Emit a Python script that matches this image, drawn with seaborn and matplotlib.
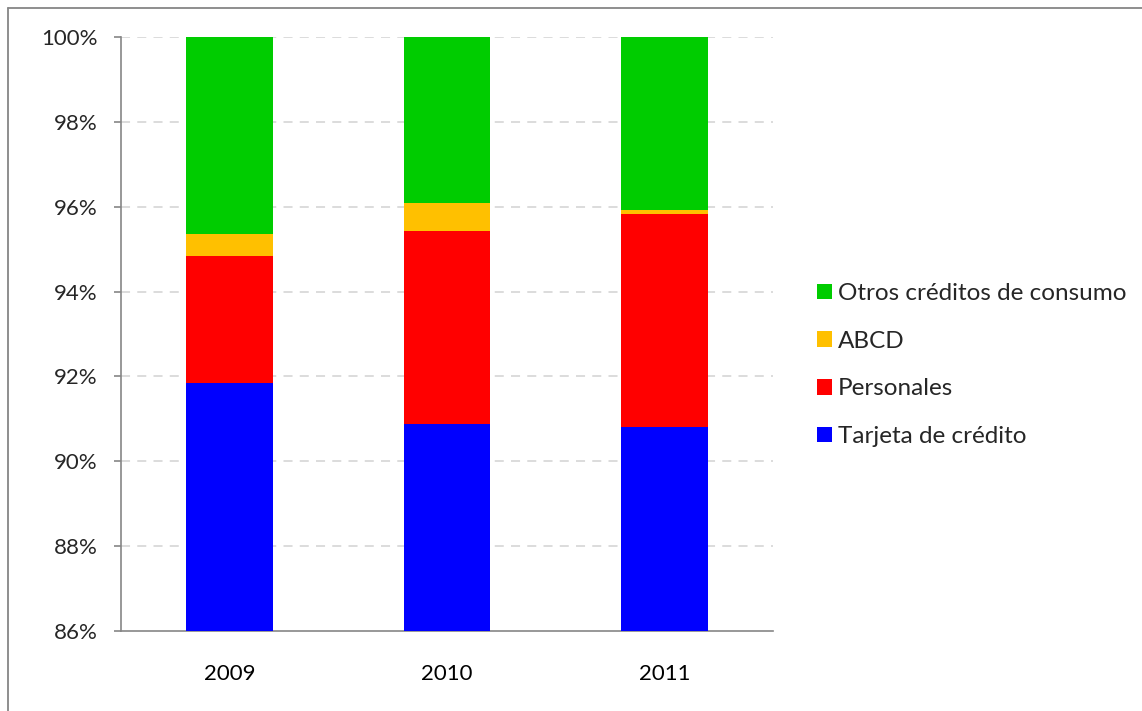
import matplotlib
matplotlib.use("Agg")
import matplotlib.pyplot as plt
from matplotlib.patches import Patch
from matplotlib.lines import Line2D
from matplotlib.ticker import FixedLocator, FuncFormatter
import numpy as np
import pandas as pd
import seaborn as sns

# Consumer credit composition (% of total), by year
years = ["2009", "2010", "2011"]
tarjeta = [91.85, 90.89, 90.80]
personales = [2.99, 4.54, 5.03]
abcd = [0.52, 0.66, 0.09]
otros = [4.64, 3.91, 4.08]

series_names = ["Tarjeta de crédito", "Personales", "ABCD", "Otros créditos de consumo"]
series_colors = ["#0000FF", "#FF0000", "#FFC000", "#00CC00"]

sns.set_theme(style="white")
plt.rcParams["font.family"] = ["Lato", "DejaVu Sans"]

fig = plt.figure(figsize=(11.42, 7.11), dpi=100)
ax = fig.add_axes([121 / 1142, 80 / 711, (773 - 121) / 1142, (631 - 37) / 711])

layers = np.array([tarjeta, personales, abcd, otros])
cum = np.cumsum(layers, axis=0)

# Draw stacked bars from the tallest cumulative layer down
for i in range(len(series_names) - 1, -1, -1):
    df = pd.DataFrame({"year": years, "value": cum[i]})
    sns.barplot(data=df, x="year", y="value", color=series_colors[i],
                width=0.4, saturation=1, ax=ax, zorder=3, linewidth=0)

ax.set_ylim(86, 100)
ax.set_xlim(-0.5, 2.5)
ax.set_xlabel("")
ax.set_ylabel("")

yt = [86, 88, 90, 92, 94, 96, 98, 100]
ax.yaxis.set_major_locator(FixedLocator(yt))
ax.yaxis.set_major_formatter(FuncFormatter(lambda v, p: f"{v:.0f}%"))
for v in yt[1:]:
    ax.axhline(v, color="#d9d9d9", linewidth=1.3, linestyle=(0, (5, 4)), zorder=1)

ax.set_xticks([0, 1, 2])
ax.set_xticklabels(years)
ax.set_xticks([-0.5, 0.5, 1.5, 2.5], minor=True)
ax.tick_params(axis="x", which="major", length=0, pad=24, labelsize=16, colors="black")
ax.tick_params(axis="x", which="minor", length=6, width=1.2, color="#868686", direction="out")
ax.tick_params(axis="y", which="major", length=5, width=1.2, color="#868686",
               direction="out", labelsize=16, pad=12, left=True)

for side in ["top", "right"]:
    ax.spines[side].set_visible(False)
for side in ["left", "bottom"]:
    ax.spines[side].set_color("#868686")
    ax.spines[side].set_linewidth(1.2)

handles = [Patch(facecolor=series_colors[i], edgecolor="none") for i in range(3, -1, -1)]
labels = [series_names[i] for i in range(3, -1, -1)]
fig.legend(handles, labels, loc="center left", bbox_to_anchor=(805 / 1142, 1 - 365 / 711),
           frameon=False, fontsize=17.5, handlelength=0.6, handleheight=0.6,
           handletextpad=0.25, labelspacing=1.1, borderpad=0)

# Chart frame
fig.add_artist(Line2D([8 / 1142, 8 / 1142], [0, 1 - 8 / 711], transform=fig.transFigure,
                      color="#868686", linewidth=1.3))
fig.add_artist(Line2D([8 / 1142, 1], [1 - 8 / 711, 1 - 8 / 711], transform=fig.transFigure,
                      color="#868686", linewidth=1.3))

fig.savefig("out.png", dpi=100)
